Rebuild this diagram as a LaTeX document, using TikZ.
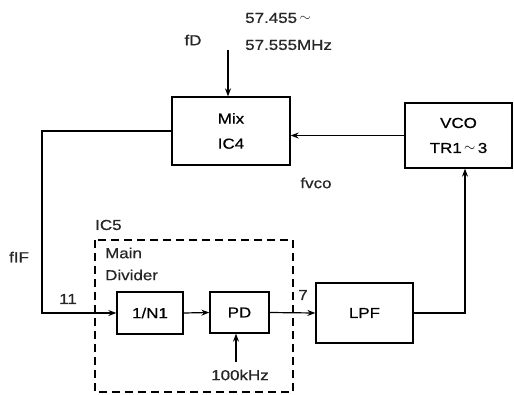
\documentclass[tikz,border=0pt]{standalone}
\usepackage{fontspec}
\setmainfont{Liberation Sans}[FakeStretch=1.17, FakeBold=0.6]
\usetikzlibrary{arrows.meta}
\begin{document}
\begin{tikzpicture}[x=1pt,y=-1pt,
  every node/.style={font=\fontsize{14.5}{25}\selectfont, inner sep=0pt},
  blk/.style={draw, line width=1.3pt, align=center},
  wire/.style={line width=1.2pt},
  arr/.style={wire, -{Stealth[length=8pt,width=6pt]}},
  lbl/.style={text=black!85}]
\useasboundingbox (0,0) rectangle (514,394);
% blocks
\node[blk, minimum width=118pt, minimum height=68pt] (mix) at (231,131) {Mix\\IC4};
\node[blk, minimum width=107pt, minimum height=65pt] (vco) at (458.5,135.5) {VCO\\TR1\,\raisebox{1pt}{$\sim$}\,3};
\node[blk, minimum width=66pt, minimum height=42pt] (div) at (150,313) {1/N1};
\node[blk, minimum width=59pt, minimum height=41pt] (pd) at (239.5,312.5) {PD};
\node[blk, minimum width=97pt, minimum height=60pt] (lpf) at (364.5,313) {LPF};
% dashed IC5 box
\draw[line width=1.2pt, dash pattern=on 8pt off 5pt] (95,240) rectangle (293,392);
% labels
\node[lbl] (fd) at (193,40) {fD};
\node[lbl, anchor=west] (f1) at (245,18) {57.455\,\raisebox{1pt}{$\sim$}};
\node[lbl, anchor=west] (f2) at (245,45) {57.555MHz};
\node[lbl] (fvco) at (316,183) {fvco};
\node[lbl, anchor=west] (ic5) at (95,225) {IC5};
\node[lbl, anchor=west] (main) at (105,253) {Main};
\node[lbl, anchor=west] (divider) at (105,275) {Divider};
\node[lbl] (n11) at (68,299) {11};
\node[lbl] (fif) at (19,257) {fIF};
\node[lbl] (n7) at (303,295) {7};
\node[lbl] (ref) at (240,375) {100kHz};
% coordinates
\coordinate (fdtop) at (228,50);
\coordinate (refbot) at (236,362);
\coordinate (lc) at (42,0);
\coordinate (rc) at (465,0);
% connectors
\draw[arr] (fdtop) -- (fdtop |- mix.north);
\draw[arr] (vco.west) -- (vco.west -| mix.east);
\draw[arr] (mix.west) -- (lc |- mix.west) -- (lc |- div.west) -- (div.west);
\draw[arr] (div.east) -- (pd.west);
\draw[arr] (pd.east) -- (lpf.west);
\draw[arr] (lpf.east) -- (rc |- lpf.east) -- (rc |- vco.south);
\draw[arr] (refbot) -- (refbot |- pd.south);
\end{tikzpicture}
\end{document}
